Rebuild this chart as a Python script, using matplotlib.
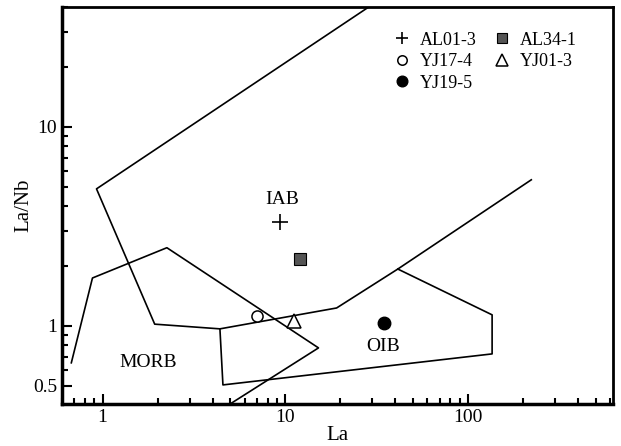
import matplotlib
matplotlib.use("Agg")
import matplotlib.pyplot as plt
from matplotlib.ticker import LogLocator, NullFormatter, FixedLocator, FixedFormatter

plt.rcParams["font.family"] = ["Liberation Serif", "DejaVu Serif"]

# Feldgrenzen (La, La/Nb)
iab_la = [28.6, 0.927, 1.93, 4.39, 19.1, 41.3, 222]
iab_lanb = [40.0, 4.88, 1.02, 0.966, 1.23, 1.93, 5.42]

morb_la = [0.675, 0.881, 2.25, 15.2, 4.99]
morb_lanb = [0.652, 1.74, 2.47, 0.775, 0.405]

oib_la = [4.39, 4.56, 135.5, 135.5, 41.3]
oib_lanb = [0.966, 0.505, 0.723, 1.136, 1.93]

# Proben
proben = ["AL01-3", "YJ17-4", "YJ19-5", "AL34-1", "YJ01-3"]
proben_la = [9.39, 7.0, 34.5, 12.1, 11.1]
proben_lanb = [3.33, 1.12, 1.035, 2.17, 1.06]

feld_namen = ["IAB", "MORB", "OIB"]
feld_la = [9.6, 1.77, 34.5]
feld_lanb = [4.30, 0.652, 0.784]

fig = plt.figure(figsize=(6.21, 4.46), dpi=100)
ax = fig.add_axes([0.0998, 0.0942, 0.887, 0.89])
ax.set_xscale("log")
ax.set_yscale("log")

for xs, ys in [(iab_la, iab_lanb), (morb_la, morb_lanb), (oib_la, oib_lanb)]:
    ax.plot(xs, ys, color="black", lw=1.2)

stile = {
    "AL01-3": dict(marker="+", ms=11, mew=1.2, color="black", mfc="black"),
    "YJ17-4": dict(marker="o", ms=8, mew=1.1, color="black", mfc="white"),
    "YJ19-5": dict(marker="o", ms=9, mew=1.0, color="black", mfc="black"),
    "AL34-1": dict(marker="s", ms=8, mew=0.8, color="black", mfc="#555555"),
    "YJ01-3": dict(marker="^", ms=10, mew=1.1, color="black", mfc="white"),
}
for name, x, y in zip(proben, proben_la, proben_lanb):
    ax.plot([x], [y], ls="none", label=name, **stile[name])

for name, x, y in zip(feld_namen, feld_la, feld_lanb):
    ax.text(x, y, name, fontsize=14, ha="center", va="center")

ax.set_xlim(0.6, 620)
ax.set_ylim(0.405, 40)

ax.xaxis.set_major_locator(FixedLocator([1, 10, 100]))
ax.xaxis.set_major_formatter(FixedFormatter(["1", "10", "100"]))
ax.xaxis.set_minor_locator(LogLocator(base=10, subs=range(2, 10)))
ax.xaxis.set_minor_formatter(NullFormatter())
ax.yaxis.set_major_locator(FixedLocator([0.5, 1, 10]))
ax.yaxis.set_major_formatter(FixedFormatter(["0.5", "1", "10"]))
ax.yaxis.set_minor_locator(LogLocator(base=10, subs=range(2, 10)))
ax.yaxis.set_minor_formatter(NullFormatter())

ax.tick_params(which="both", direction="in", top=False, right=False, labelsize=14, width=1.5)
ax.tick_params(which="major", length=7)
ax.tick_params(which="minor", length=4)

for seite in ["left", "bottom"]:
    ax.spines[seite].set_linewidth(2.5)
for seite in ["top", "right"]:
    ax.spines[seite].set_linewidth(2)

ax.set_xlabel("La", fontsize=15, labelpad=0)
ax.set_ylabel("La/Nb", fontsize=15, labelpad=0)

ax.legend(ncol=2, frameon=False, fontsize=13, loc="upper right",
          bbox_to_anchor=(0.955, 0.965), handlelength=1.0, handletextpad=0.5,
          columnspacing=0.9, labelspacing=0.25, borderaxespad=0.2, markerscale=0.85)

fig.savefig("out.png", dpi=100)
